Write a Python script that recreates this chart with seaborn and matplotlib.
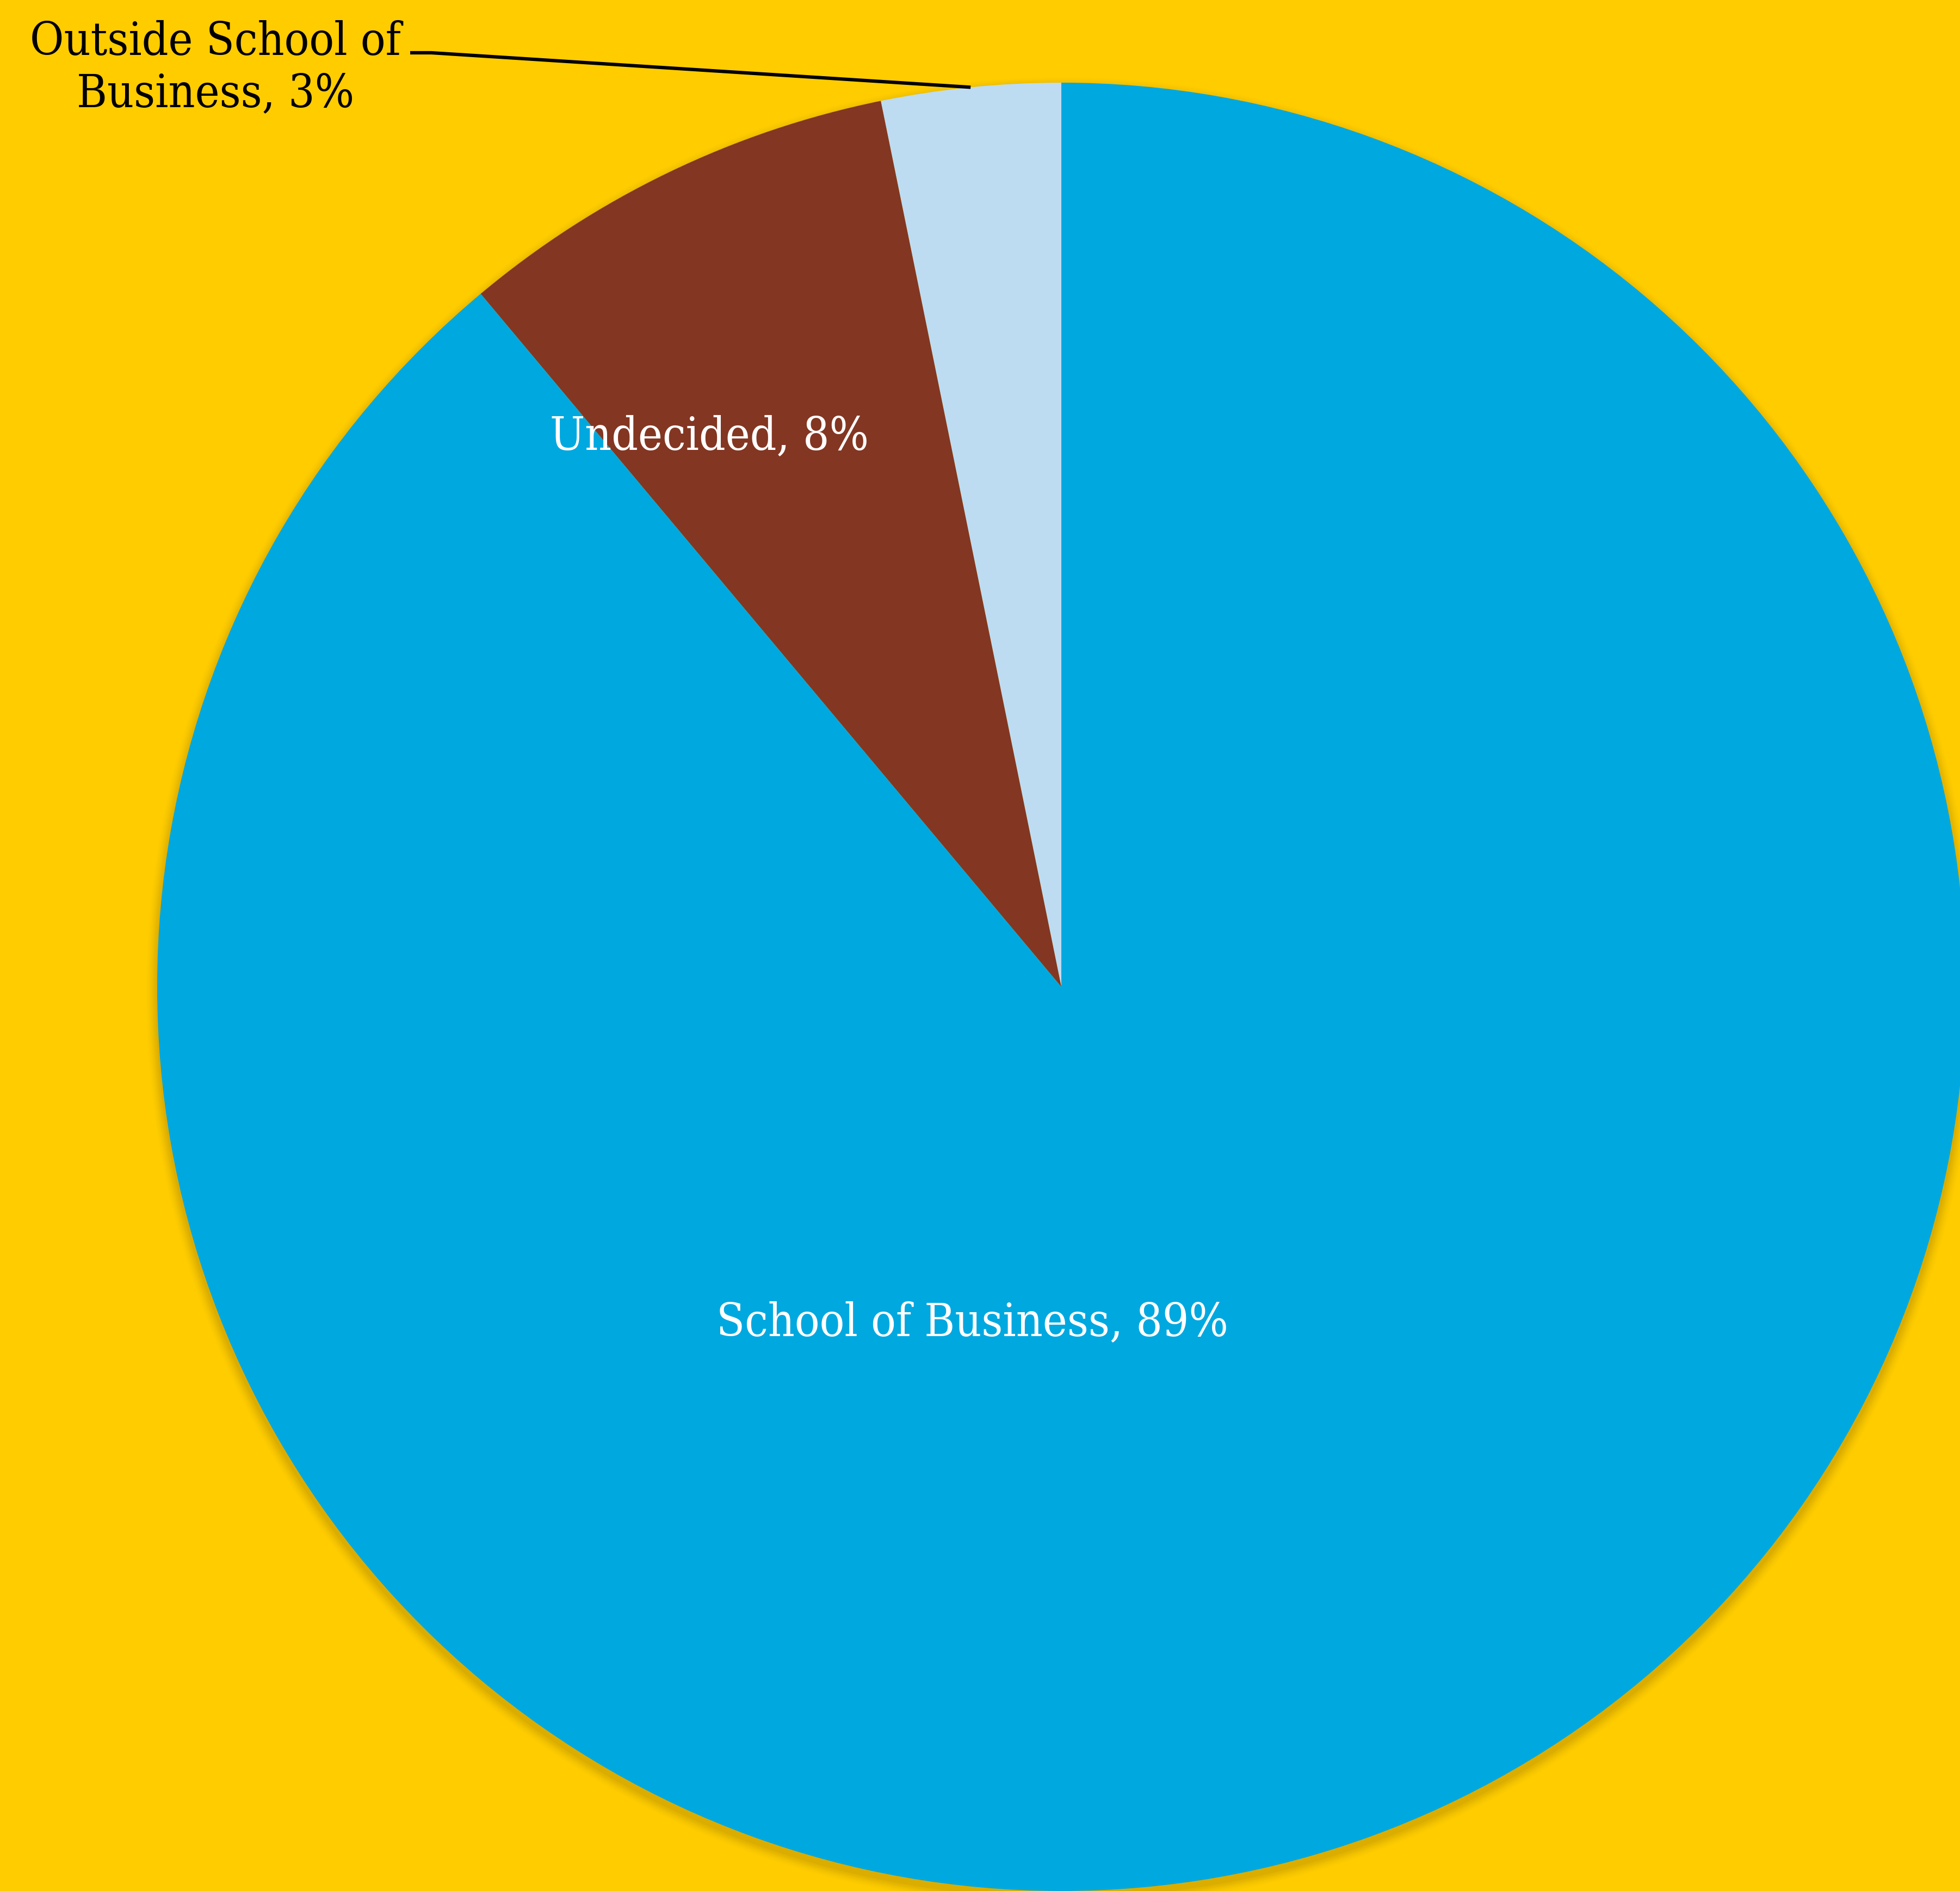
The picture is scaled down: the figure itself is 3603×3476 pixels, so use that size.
import numpy as np
import matplotlib
matplotlib.use("Agg")
import matplotlib.pyplot as plt
import seaborn as sns
from matplotlib.patches import Circle

# ---- data ----
categories = ["Outside School of\nBusiness", "Undecided", "School of Business"]
values = [3.2, 7.9, 88.9]
colors = ["#BDDCF2", "#833622", "#00A8E0"]
label_colors = ["black", "white", "white"]

sns.set_theme(style="white")
plt.rcParams["font.family"] = ["DejaVu Serif"]

W, H, DPI = 3603, 3476, 100
fig = plt.figure(figsize=(W / DPI, H / DPI), dpi=DPI)
bg = "#FFCC00"
fig.patch.set_facecolor(bg)
ax = fig.add_axes([0, 0, 1, 1])
ax.set_facecolor(bg)

# pie geometry in pixels -> data limits
cx, cy_top, R = 1951, 1814, 1662

# soft shadow
for i, a in enumerate(np.linspace(0.05, 0.012, 8)):
    ax.add_patch(Circle((0.0, -0.006), 1.0 + 0.0015 * (i + 1), color="#6b5200",
                        alpha=a, lw=0, zorder=0))

wedges, _ = ax.pie(values, colors=colors, startangle=90, counterclock=True,
                   radius=1.0, center=(0, 0), frame=True,
                   wedgeprops=dict(linewidth=0))
ax.set_xlim(-cx / R, (W - cx) / R)
ax.set_ylim(-(H - cy_top) / R, cy_top / R)
ax.set_aspect("equal")
ax.axis("off")

fs = 61
labels = [f"{c}, {round(v)}%" for c, v in zip(categories, values)]
pos = [(-0.9356, 1.016), (-0.389, 0.608), (-0.0987, -0.372)]
for lab, (x, y), col in zip(labels, pos, label_colors):
    ax.text(x, y, lab, ha="center", va="center", color=col, fontsize=fs,
            fontstretch="condensed", linespacing=1.2, zorder=5)

# leader line for the small slice
w0 = wedges[0]
mid = np.deg2rad((w0.theta1 + w0.theta2) / 2)
ex, ey = np.cos(mid), np.sin(mid)
x0 = (754 - cx) / R
x1 = (793 - cx) / R
y0 = (cy_top - 97) / R
ax.plot([x0, x1, ex], [y0, y0, ey], color="black", lw=4.5, zorder=5,
        solid_capstyle="butt")

fig.savefig("out.png", dpi=DPI, facecolor=bg)
